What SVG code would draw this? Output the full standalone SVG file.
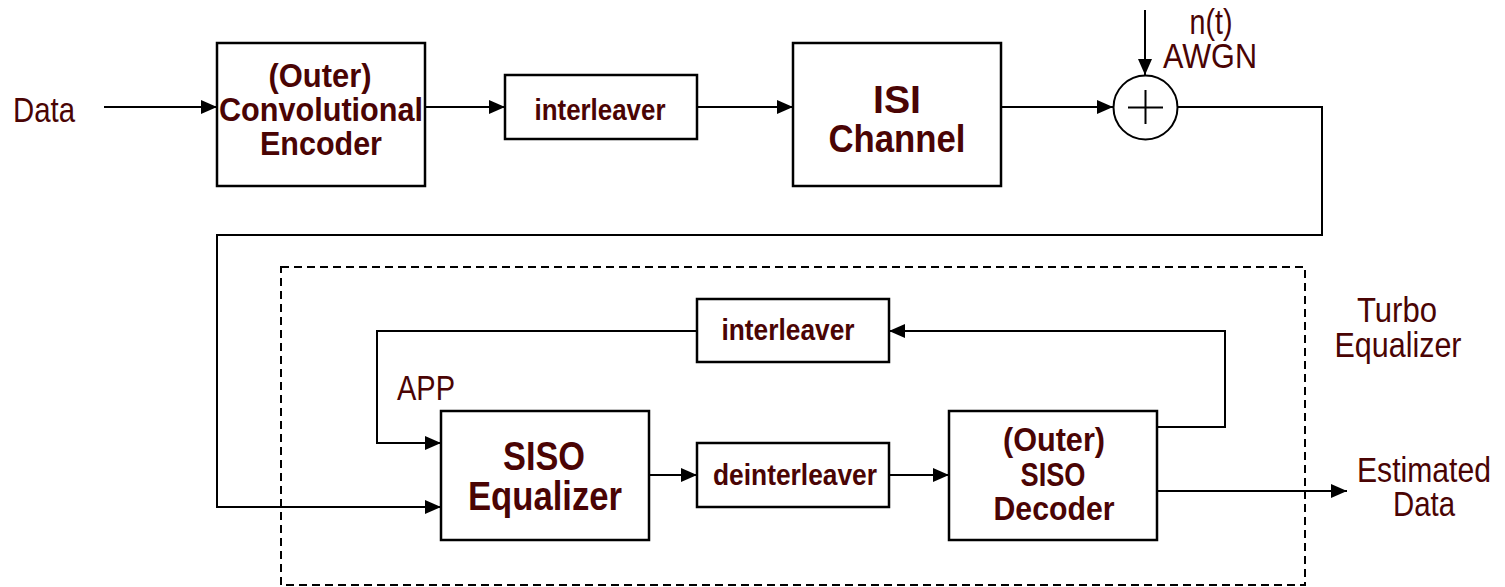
<svg xmlns="http://www.w3.org/2000/svg" width="1505" height="587" viewBox="0 0 1505 587">
<style>
.box{fill:#fff;stroke:#000;stroke-width:2.5}
.ln{fill:none;stroke:#000;stroke-width:2}
.b{font-family:"Liberation Sans",Arial,sans-serif;font-weight:bold;fill:#4a0404;text-anchor:middle}
.r{font-family:"Liberation Sans",Arial,sans-serif;fill:#4a0404;text-anchor:middle}
</style>
<defs>
<marker id="ah" markerUnits="userSpaceOnUse" markerWidth="18" markerHeight="16" refX="16" refY="7" orient="auto">
<path d="M0,0 L16,7 L0,14 z" fill="#000"/>
</marker>
</defs>
<rect x="0" y="0" width="1505" height="587" fill="#fff"/>
<g id="turbo-region">
<rect x="281" y="267" width="1024" height="318" fill="none" stroke="#000" stroke-width="2" stroke-dasharray="8,5"/>
<text class="r" x="1397" y="322" font-size="35" textLength="80" lengthAdjust="spacingAndGlyphs">Turbo</text>
<text class="r" x="1398" y="357" font-size="35" textLength="127" lengthAdjust="spacingAndGlyphs">Equalizer</text>
</g>
<g id="connectors">
<line class="ln" x1="104" y1="107" x2="217" y2="107" marker-end="url(#ah)"/>
<line class="ln" x1="425" y1="107" x2="505" y2="107" marker-end="url(#ah)"/>
<line class="ln" x1="697" y1="107" x2="793" y2="107" marker-end="url(#ah)"/>
<line class="ln" x1="1001" y1="107" x2="1113" y2="107" marker-end="url(#ah)"/>
<line class="ln" x1="1145" y1="10" x2="1145" y2="75" marker-end="url(#ah)"/>
<polyline class="ln" points="1178,107 1322,107 1322,235 217,235 217,507 441,507" marker-end="url(#ah)"/>
<polyline class="ln" points="697,331 377,331 377,443 441,443" marker-end="url(#ah)"/>
<line class="ln" x1="649" y1="475" x2="697" y2="475" marker-end="url(#ah)"/>
<line class="ln" x1="889" y1="475" x2="949" y2="475" marker-end="url(#ah)"/>
<polyline class="ln" points="1157,427 1225,427 1225,331 889,331" marker-end="url(#ah)"/>
<line class="ln" x1="1157" y1="491" x2="1347" y2="491" marker-end="url(#ah)"/>
</g>
<g id="data-label">
<text class="r" x="44" y="122" font-size="35" textLength="62" lengthAdjust="spacingAndGlyphs">Data</text>
</g>
<g id="encoder">
<rect class="box" x="217" y="43" width="208" height="143"/>
<text class="b" x="320" y="87" font-size="33" textLength="103" lengthAdjust="spacingAndGlyphs">(Outer)</text>
<text class="b" x="321" y="121" font-size="33" textLength="204" lengthAdjust="spacingAndGlyphs">Convolutional</text>
<text class="b" x="321" y="155" font-size="33" textLength="122" lengthAdjust="spacingAndGlyphs">Encoder</text>
</g>
<g id="interleaver1">
<rect class="box" x="505" y="75" width="192" height="64"/>
<text class="b" x="600" y="120" font-size="30" textLength="131" lengthAdjust="spacingAndGlyphs">interleaver</text>
</g>
<g id="isi-channel">
<rect class="box" x="793" y="43" width="208" height="143"/>
<text class="b" x="897" y="113" font-size="38" textLength="48" lengthAdjust="spacingAndGlyphs">ISI</text>
<text class="b" x="897" y="152" font-size="38" textLength="137" lengthAdjust="spacingAndGlyphs">Channel</text>
</g>
<g id="adder">
<circle cx="1145.5" cy="107.5" r="32" fill="#fff" stroke="#000" stroke-width="2"/>
<line class="ln" x1="1128" y1="107.5" x2="1163" y2="107.5"/>
<line class="ln" x1="1145.5" y1="90" x2="1145.5" y2="124"/>
<text class="r" x="1211" y="34" font-size="35" textLength="43" lengthAdjust="spacingAndGlyphs">n(t)</text>
<text class="r" x="1210" y="68" font-size="35" textLength="94" lengthAdjust="spacingAndGlyphs">AWGN</text>
</g>
<g id="interleaver2">
<rect class="box" x="697" y="299" width="192" height="63"/>
<text class="b" x="788" y="340" font-size="30" textLength="133" lengthAdjust="spacingAndGlyphs">interleaver</text>
</g>
<g id="app-label">
<text class="r" x="426" y="400" font-size="35" textLength="58" lengthAdjust="spacingAndGlyphs">APP</text>
</g>
<g id="siso-equalizer">
<rect class="box" x="441" y="411" width="208" height="129"/>
<text class="b" x="544" y="470" font-size="40" textLength="82" lengthAdjust="spacingAndGlyphs">SISO</text>
<text class="b" x="545" y="510" font-size="40" textLength="154" lengthAdjust="spacingAndGlyphs">Equalizer</text>
</g>
<g id="deinterleaver">
<rect class="box" x="697" y="443" width="192" height="64"/>
<text class="b" x="795" y="485" font-size="30" textLength="164" lengthAdjust="spacingAndGlyphs">deinterleaver</text>
</g>
<g id="siso-decoder">
<rect class="box" x="949" y="411" width="208" height="129"/>
<text class="b" x="1054" y="451" font-size="33" textLength="102" lengthAdjust="spacingAndGlyphs">(Outer)</text>
<text class="b" x="1053" y="486" font-size="33" textLength="65" lengthAdjust="spacingAndGlyphs">SISO</text>
<text class="b" x="1054" y="520" font-size="33" textLength="121" lengthAdjust="spacingAndGlyphs">Decoder</text>
</g>
<g id="estimated-data">
<text class="r" x="1424" y="482" font-size="35" textLength="134" lengthAdjust="spacingAndGlyphs">Estimated</text>
<text class="r" x="1424" y="516" font-size="35" textLength="62" lengthAdjust="spacingAndGlyphs">Data</text>
</g>
</svg>
